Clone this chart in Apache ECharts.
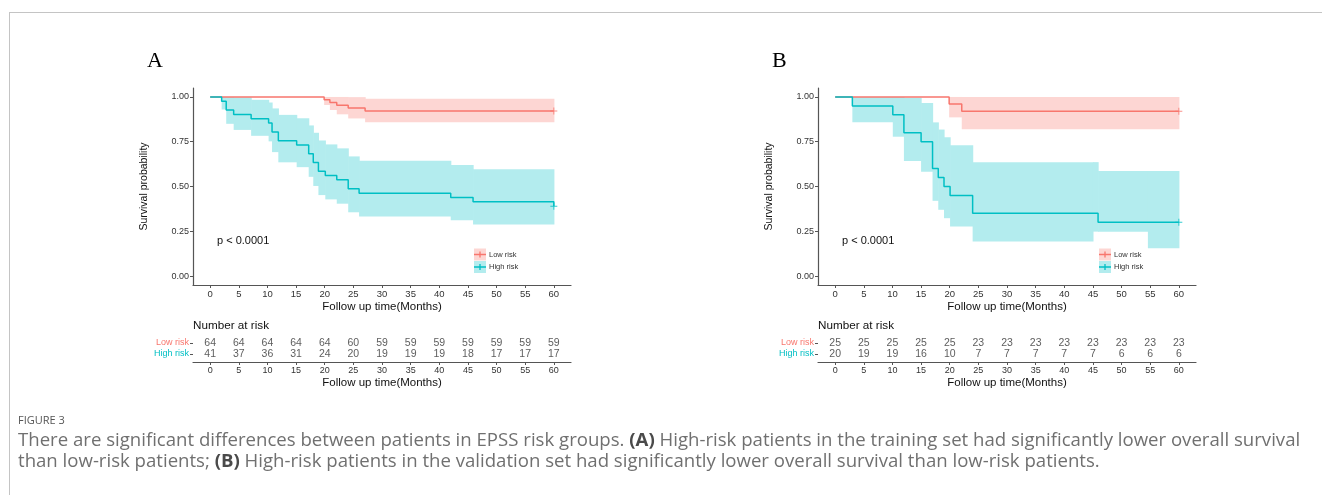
<!DOCTYPE html>
<html>
<head>
<meta charset="utf-8">
<script src="https://cdn.jsdelivr.net/npm/echarts@6/dist/echarts.min.js"></script>
<style>
html, body { margin: 0; padding: 0; background: #fff; }
#main { width: 1322px; height: 495px; }
</style>
</head>
<body>
<div id="main"></div>
<script>
// ticks
var monthTicks = [0, 5, 10, 15, 20, 25, 30, 35, 40, 45, 50, 55, 60];
var survTicks = [0, 0.25, 0.5, 0.75, 1];

// A - training set, KM steps
var aLowTime = [0, 19.9, 20.9, 22.1, 24.1, 27.05, 60];
var aLowSurv = [1, 0.984, 0.969, 0.953, 0.938, 0.922, 0.922];
var aHighTime = [0, 2.0, 2.8, 4.1, 7.15, 10.2, 10.8, 11.9, 15.1, 17.2, 18.0, 18.9, 20.1, 22.1, 24.1, 26.0, 42.0, 45.9, 60];
var aHighSurv = [1, 0.976, 0.927, 0.902, 0.878, 0.854, 0.805, 0.756, 0.732, 0.683, 0.634, 0.585, 0.561, 0.537, 0.488, 0.463, 0.439, 0.415, 0.390];
// A - confidence bands
var aLowCiTime = [19.9, 20.9, 22.1, 24.1, 27.05, 60];
var aLowUpper = [1, 1, 1, 0.999, 0.990, 0.990];
var aLowLower = [0.955, 0.927, 0.903, 0.880, 0.859, 0.859];
var aHighCiTime = [2.0, 2.8, 4.1, 7.15, 10.2, 10.8, 11.9, 15.1, 17.2, 18.0, 18.9, 20.1, 22.1, 24.1, 26.0, 42.0, 45.9, 60];
var aHighUpper = [1, 1, 0.998, 0.984, 0.969, 0.936, 0.900, 0.881, 0.841, 0.800, 0.757, 0.735, 0.713, 0.668, 0.644, 0.620, 0.597, 0.597];
var aHighLower = [0.930, 0.850, 0.816, 0.783, 0.752, 0.692, 0.635, 0.608, 0.554, 0.503, 0.452, 0.428, 0.404, 0.356, 0.333, 0.311, 0.288, 0.288];
// A - number at risk
var aLowRisk = [64, 64, 64, 64, 64, 60, 59, 59, 59, 59, 59, 59, 59];
var aHighRisk = [41, 37, 36, 31, 24, 20, 19, 19, 19, 18, 17, 17, 17];

// B - validation set
var bLowTime = [0, 19.9, 22.1, 60];
var bLowSurv = [1, 0.96, 0.92, 0.92];
var bHighTime = [0, 3.0, 10.06, 12.0, 15.0, 17.0, 18.0, 19.0, 20.06, 24.0, 45.9, 60];
var bHighSurv = [1, 0.95, 0.90, 0.80, 0.75, 0.60, 0.55, 0.50, 0.45, 0.35, 0.30, 0.30];
var bLowCiTime = [19.9, 22.1, 60];
var bLowUpper = [1, 1, 1];
var bLowLower = [0.886, 0.820, 0.820];
var bHighCiTime = [3.0, 10.06, 12.0, 15.0, 17.0, 18.0, 19.0, 20.06, 24.0, 45.0, 45.9, 54.6, 60];
var bHighUpper = [1, 1, 0.996, 0.966, 0.858, 0.818, 0.775, 0.731, 0.636, 0.636, 0.586, 0.586, 0.586];
var bHighLower = [0.859, 0.778, 0.643, 0.582, 0.420, 0.370, 0.323, 0.277, 0.193, 0.248, 0.248, 0.155, 0.155];
var bLowRisk = [25, 25, 25, 25, 25, 23, 23, 23, 23, 23, 23, 23, 23];
var bHighRisk = [20, 19, 19, 16, 10, 7, 7, 7, 7, 7, 6, 6, 6];

var RED = '#F8766D', CYAN = '#00BFC4';
var RED_BAND = '#fdd6d3', CYAN_BAND = '#b3ecee';
var SANS = 'Liberation Sans';
var AXIS = '#555';

function pairs(xs, ys) {
    return xs.map(function (x, i) { return [x, ys[i]]; });
}
// one rectangle per step of the band: [from, to, lower, upper]
function bandSteps(ts, up, lo) {
    var out = [];
    for (var i = 0; i < ts.length - 1; i++) {
        out.push([ts[i], ts[i + 1], lo[i], up[i]]);
    }
    return out;
}

var panels = [
    {left: 193, dx: 0, letter: 'A',
     low: [aLowTime, aLowSurv, aLowCiTime, aLowUpper, aLowLower, aLowRisk],
     high: [aHighTime, aHighSurv, aHighCiTime, aHighUpper, aHighLower, aHighRisk]},
    {left: 818, dx: 625, letter: 'B',
     low: [bLowTime, bLowSurv, bLowCiTime, bLowUpper, bLowLower, bLowRisk],
     high: [bHighTime, bHighSurv, bHighCiTime, bHighUpper, bHighLower, bHighRisk]}
];

var grids = [], xAxes = [], yAxes = [], series = [], graphics = [];

function monthAxis(g) {
    return {
        type: 'value', gridIndex: g, min: -3, max: 63,
        axisLine: {show: true, onZero: false, lineStyle: {color: AXIS, width: 1.2}},
        axisTick: {show: true, customValues: monthTicks, length: 3, lineStyle: {color: AXIS}},
        axisLabel: {customValues: monthTicks, color: '#333', fontSize: 9.5, fontFamily: SANS, margin: 4},
        splitLine: {show: false},
        name: 'Follow up time(Months)', nameLocation: 'middle', nameGap: 16,
        nameTextStyle: {color: '#111', fontSize: 11.5, fontFamily: SANS, verticalAlign: 'top'}
    };
}

panels.forEach(function (p, k) {
    var gp = k * 2, gt = k * 2 + 1;
    grids.push({left: p.left, top: 88, width: 378, height: 197, outerBoundsMode: 'none'});
    grids.push({left: p.left, top: 338.5, width: 378, height: 23.5, outerBoundsMode: 'none'});
    xAxes.push(monthAxis(gp));
    var tx = monthAxis(gt);
    tx.nameGap = 15;
    tx.axisLabel.fontSize = 9;
    xAxes.push(tx);
    yAxes.push({
        type: 'value', gridIndex: gp, min: -0.05, max: 1.05,
        axisLine: {show: true, onZero: false, lineStyle: {color: AXIS, width: 1.2}},
        axisTick: {show: true, customValues: survTicks, length: 3, lineStyle: {color: AXIS}},
        axisLabel: {customValues: survTicks, color: '#333', fontSize: 9, fontFamily: SANS, margin: 4,
            formatter: function (v) { return v.toFixed(2); }},
        splitLine: {show: false},
        name: 'Survival probability', nameLocation: 'middle', nameGap: 43, nameRotate: 90,
        nameTextStyle: {color: '#111', fontSize: 10.5, fontFamily: SANS}
    });
    yAxes.push({
        type: 'value', gridIndex: gt, min: 0.27, max: 2.41,
        axisLine: {show: false, onZero: false},
        axisTick: {show: true, customValues: [1, 2], length: 3, lineStyle: {color: AXIS}},
        axisLabel: {customValues: [1, 2], fontSize: 9, fontFamily: SANS, margin: 4,
            formatter: function (v) { return v === 2 ? '{lo|Low risk}' : '{hi|High risk}'; },
            rich: {lo: {color: RED, fontSize: 9, fontFamily: SANS}, hi: {color: CYAN, fontSize: 9, fontFamily: SANS}}},
        splitLine: {show: false}
    });

    [[p.low, RED, RED_BAND, 2], [p.high, CYAN, CYAN_BAND, 1]].forEach(function (grp) {
        var d = grp[0], col = grp[1], fill = grp[2], row = grp[3];
        series.push({
            type: 'custom', coordinateSystem: 'cartesian2d', xAxisIndex: gp, yAxisIndex: gp,
            silent: true, z: 1,
            encode: {x: [0, 1], y: [2, 3]},
            data: bandSteps(d[2], d[3], d[4]),
            renderItem: function (params, api) {
                var a = api.coord([api.value(0), api.value(3)]);
                var b = api.coord([api.value(1), api.value(2)]);
                return {type: 'rect',
                    shape: {x: a[0], y: a[1], width: b[0] - a[0] + 0.6, height: b[1] - a[1]},
                    style: {fill: fill}};
            }
        });
        series.push({
            type: 'line', xAxisIndex: gp, yAxisIndex: gp, step: 'end',
            symbol: 'none', z: 3,
            lineStyle: {color: col, width: 1.5},
            data: pairs(d[0], d[1])
        });
        // censor mark at the end of follow up
        series.push({
            type: 'scatter', xAxisIndex: gp, yAxisIndex: gp, z: 4,
            symbol: 'path://M4.3,0H5.7V4.3H10V5.7H5.7V10H4.3V5.7H0V4.3H4.3Z', symbolSize: 7,
            itemStyle: {color: col},
            data: [[d[0][d[0].length - 1], d[1][d[1].length - 1]]]
        });
        // number at risk row
        series.push({
            type: 'scatter', xAxisIndex: gt, yAxisIndex: gt, symbolSize: 0,
            label: {show: true, position: 'inside', color: '#333', fontSize: 10.5, fontFamily: SANS,
                formatter: function (q) { return q.value[2]; }},
            data: monthTicks.map(function (t, i) { return [t, row, d[5][i]]; })
        });
    });

    var dx = p.dx;
    graphics.push({type: 'text', x: 147 + dx, y: 61,
        style: {text: p.letter, fontFamily: 'Liberation Serif', fontSize: 22, fill: '#000', textVerticalAlign: 'middle'}});
    graphics.push({type: 'text', x: 217 + dx, y: 241,
        style: {text: 'p < 0.0001', fontFamily: SANS, fontSize: 11, fill: '#111', textVerticalAlign: 'middle'}});
    graphics.push({type: 'text', x: 193 + dx, y: 326,
        style: {text: 'Number at risk', fontFamily: SANS, fontSize: 11.7, fill: '#111', textVerticalAlign: 'middle'}});
    [['Low risk', RED, RED_BAND, 254.5], ['High risk', CYAN, CYAN_BAND, 267]].forEach(function (it) {
        var cy = it[3];
        graphics.push({type: 'rect', shape: {x: 474 + dx, y: cy - 6, width: 12, height: 12},
            style: {fill: it[2]}});
        graphics.push({type: 'line', shape: {x1: 474 + dx, y1: cy, x2: 486 + dx, y2: cy},
            style: {stroke: it[1], lineWidth: 1.5}});
        graphics.push({type: 'line', shape: {x1: 480 + dx, y1: cy - 3, x2: 480 + dx, y2: cy + 3},
            style: {stroke: it[1], lineWidth: 1.3}});
        graphics.push({type: 'text', x: 489 + dx, y: cy,
            style: {text: it[0], fontFamily: SANS, fontSize: 7.5, fill: '#333', textVerticalAlign: 'middle'}});
    });
});

// frame and caption
graphics.push({type: 'line', shape: {x1: 10, y1: 12.5, x2: 1322, y2: 12.5}, style: {stroke: '#c4c4c4', lineWidth: 1}});
graphics.push({type: 'line', shape: {x1: 9.5, y1: 12, x2: 9.5, y2: 495}, style: {stroke: '#c4c4c4', lineWidth: 1}});
graphics.push({type: 'text', x: 18, y: 421,
    style: {text: 'FIGURE 3', fontFamily: 'Open Sans', fontSize: 11, fill: '#555', textVerticalAlign: 'middle'}});
var capRich = {n: {fill: '#707070', fontFamily: 'Open Sans', fontSize: 18.6}, b: {fill: '#4a4a4a', fontFamily: 'Open Sans', fontSize: 18.6, fontWeight: 'bold'}};
graphics.push({type: 'text', x: 18, y: 441,
    style: {text: '{n|There are significant differences between patients in EPSS risk groups. }{b|(A)}{n| High-risk patients in the training set had significantly lower overall survival}',
        rich: capRich, textVerticalAlign: 'middle'}});
graphics.push({type: 'text', x: 18, y: 462,
    style: {text: '{n|than low-risk patients; }{b|(B)}{n| High-risk patients in the validation set had significantly lower overall survival than low-risk patients.}',
        rich: capRich, textVerticalAlign: 'middle'}});

var chart = echarts.init(document.getElementById('main'));
chart.setOption({
    animation: false,
    backgroundColor: '#fff',
    grid: grids,
    xAxis: xAxes,
    yAxis: yAxes,
    series: series,
    graphic: {elements: graphics}
});
</script>
</body>
</html>
